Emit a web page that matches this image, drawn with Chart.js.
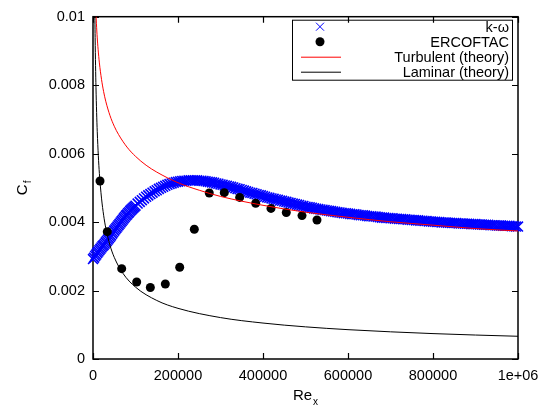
<!DOCTYPE html>
<html>
<head>
<meta charset="utf-8">
<script src="https://cdn.jsdelivr.net/npm/chart.js@4.4.0/dist/chart.umd.min.js"></script>
<style>
  html, body { margin: 0; padding: 0; background: #fff; }
  canvas { display: block; }
</style>
</head>
<body>
<canvas id="cfChart" width="549" height="407"></canvas>
<script>
// Skin friction coefficient along a flat plate

const xTicks = [0, 200000, 400000, 600000, 800000, 1000000];
const yTicks = [0, 0.002, 0.004, 0.006, 0.008, 0.01];

// k-omega simulation (finer spacing near the leading edge)
const komegaRe = [
    0, 2500, 5000, 7500, 10000, 12500, 15000, 17500, 20000, 22500,
    25000, 27500, 30000, 32500, 35000, 37500, 40000, 42500, 45000, 47500,
    50000, 52500, 55000, 57500, 60000, 62500, 65000, 67500, 70000, 72500,
    75000, 77500, 80000, 82500, 85000, 87500, 90000, 92500, 95000, 97500,
    100000, 105000, 110000, 115000, 120000, 125000, 130000, 135000, 140000, 145000,
    150000, 155000, 160000, 165000, 170000, 175000, 180000, 185000, 190000, 195000,
    200000, 205000, 210000, 215000, 220000, 225000, 230000, 235000, 240000, 245000,
    250000, 255000, 260000, 265000, 270000, 275000, 280000, 285000, 290000, 295000,
    300000, 305000, 310000, 315000, 320000, 325000, 330000, 335000, 340000, 345000,
    350000, 355000, 360000, 365000, 370000, 375000, 380000, 385000, 390000, 395000,
    400000, 405000, 410000, 415000, 420000, 425000, 430000, 435000, 440000, 445000,
    450000, 455000, 460000, 465000, 470000, 475000, 480000, 485000, 490000, 495000,
    500000, 505000, 510000, 515000, 520000, 525000, 530000, 535000, 540000, 545000,
    550000, 555000, 560000, 565000, 570000, 575000, 580000, 585000, 590000, 595000,
    600000, 605000, 610000, 615000, 620000, 625000, 630000, 635000, 640000, 645000,
    650000, 655000, 660000, 665000, 670000, 675000, 680000, 685000, 690000, 695000,
    700000, 705000, 710000, 715000, 720000, 725000, 730000, 735000, 740000, 745000,
    750000, 755000, 760000, 765000, 770000, 775000, 780000, 785000, 790000, 795000,
    800000, 805000, 810000, 815000, 820000, 825000, 830000, 835000, 840000, 845000,
    850000, 855000, 860000, 865000, 870000, 875000, 880000, 885000, 890000, 895000,
    900000, 905000, 910000, 915000, 920000, 925000, 930000, 935000, 940000, 945000,
    950000, 955000, 960000, 965000, 970000, 975000, 980000, 985000, 990000, 995000,
    1000000
];
const komegaCf = [
    0.00292, 0.00296, 0.00301, 0.00305, 0.00310, 0.00314, 0.00318, 0.00322, 0.00326, 0.00330,
    0.00333, 0.00337, 0.00341, 0.00345, 0.00349, 0.00353, 0.00357, 0.00361, 0.00366, 0.00370,
    0.00375, 0.00379, 0.00383, 0.00387, 0.00391, 0.00395, 0.00399, 0.00403, 0.00407, 0.00411,
    0.00415, 0.00419, 0.00422, 0.00426, 0.00429, 0.00433, 0.00436, 0.00439, 0.00442, 0.00445,
    0.00448, 0.00454, 0.00459, 0.00464, 0.00469, 0.00474, 0.00478, 0.00482, 0.00486, 0.00490,
    0.00493, 0.00497, 0.00500, 0.00503, 0.00506, 0.00509, 0.00511, 0.00513, 0.00515, 0.00517,
    0.00518, 0.00519, 0.00520, 0.00521, 0.00521, 0.00522, 0.00522, 0.00522, 0.00522, 0.00522,
    0.00521, 0.00521, 0.00520, 0.00519, 0.00518, 0.00517, 0.00516, 0.00515, 0.00513, 0.00512,
    0.00510, 0.00509, 0.00507, 0.00506, 0.00504, 0.00503, 0.00501, 0.00499, 0.00497, 0.00496,
    0.00494, 0.00492, 0.00490, 0.00488, 0.00486, 0.00485, 0.00483, 0.00481, 0.00479, 0.00478,
    0.00476, 0.00474, 0.00472, 0.00471, 0.00469, 0.00468, 0.00466, 0.00465, 0.00463, 0.00462,
    0.00460, 0.00459, 0.00457, 0.00456, 0.00454, 0.00453, 0.00451, 0.00450, 0.00448, 0.00447,
    0.00445, 0.00444, 0.00443, 0.00442, 0.00440, 0.00439, 0.00438, 0.00437, 0.00436, 0.00435,
    0.00434, 0.00433, 0.00432, 0.00431, 0.00430, 0.00429, 0.00428, 0.00427, 0.00426, 0.00426,
    0.00425, 0.00424, 0.00423, 0.00423, 0.00422, 0.00421, 0.00420, 0.00420, 0.00419, 0.00418,
    0.00417, 0.00417, 0.00416, 0.00416, 0.00415, 0.00414, 0.00413, 0.00413, 0.00412, 0.00412,
    0.00411, 0.00411, 0.00410, 0.00410, 0.00409, 0.00409, 0.00408, 0.00408, 0.00407, 0.00407,
    0.00406, 0.00406, 0.00405, 0.00405, 0.00404, 0.00404, 0.00403, 0.00403, 0.00402, 0.00402,
    0.00401, 0.00401, 0.00400, 0.00400, 0.00399, 0.00399, 0.00399, 0.00398, 0.00398, 0.00397,
    0.00397, 0.00397, 0.00396, 0.00396, 0.00396, 0.00395, 0.00395, 0.00395, 0.00394, 0.00394,
    0.00394, 0.00393, 0.00393, 0.00393, 0.00392, 0.00392, 0.00392, 0.00391, 0.00391, 0.00391,
    0.00390, 0.00390, 0.00390, 0.00389, 0.00389, 0.00389, 0.00389, 0.00388, 0.00388, 0.00387,
    0.00387
];

// ERCOFTAC measurements
const ercRe = [16500, 33600, 67500, 102800, 134900, 170200, 204000, 238400,
               273600, 308900, 345100, 382800, 418800, 454800, 491800, 527000];
const ercCf = [0.00520, 0.00372, 0.00264, 0.00225, 0.00209, 0.00219, 0.00268, 0.00379,
               0.00485, 0.00486, 0.00472, 0.00455, 0.00440, 0.00428, 0.00419, 0.00406];

// Turbulent flat plate (theory)
const turbRe = [5000, 7000, 8000, 10000, 12000, 15000, 20000, 25000, 30000, 40000, 50000,
                60000, 80000, 100000, 125000, 150000, 200000, 250000, 300000, 400000,
                500000, 600000, 700000, 800000, 900000, 1000000];
const turbCf = [0.01078, 0.01008, 0.00981, 0.00938, 0.00905, 0.00865, 0.00817, 0.00781, 0.00753,
                0.00711, 0.00680, 0.00656, 0.00619, 0.00592, 0.00566, 0.00546, 0.00515, 0.00493,
                0.00475, 0.00449, 0.00429, 0.00414, 0.00401, 0.00391, 0.00381, 0.00374];

// Laminar flat plate (theory)
const lamRe = [3000, 4000, 5000, 6000, 7000, 8500, 10000, 12500, 15000, 20000, 25000, 30000,
               40000, 50000, 70000, 100000, 150000, 200000, 300000, 400000, 500000, 600000,
               700000, 800000, 900000, 1000000];
const lamCf = [0.01212, 0.01050, 0.00939, 0.00857, 0.00794, 0.00720, 0.00664, 0.00594, 0.00542,
               0.00470, 0.00420, 0.00383, 0.00332, 0.00297, 0.00251, 0.00210, 0.00171, 0.00148,
               0.00121, 0.00105, 0.000939, 0.000857, 0.000794, 0.000742, 0.000700, 0.000664];

const FONT = '"Liberation Sans", Arial, sans-serif';

function toPoints(xs, ys) {
    return xs.map((v, i) => ({ x: v, y: ys[i] }));
}

// white background
const bgPlugin = {
    id: 'bg',
    beforeDraw(chart) {
        const ctx = chart.ctx;
        ctx.save();
        ctx.fillStyle = '#fff';
        ctx.fillRect(0, 0, chart.width, chart.height);
        ctx.restore();
    }
};

// gnuplot style box with inward ticks on all sides
const framePlugin = {
    id: 'frame',
    beforeDatasetsDraw(chart) {
        const { ctx, chartArea: a, scales: { x, y } } = chart;
        const tl = 6;
        ctx.save();
        ctx.strokeStyle = '#000';
        ctx.lineWidth = 1.5;
        ctx.strokeRect(a.left, a.top, a.right - a.left, a.bottom - a.top);
        ctx.lineWidth = 1.2;
        ctx.beginPath();
        x.ticks.forEach(t => {
            const px = Math.round(x.getPixelForValue(t.value)) + 0.5;
            ctx.moveTo(px, a.bottom); ctx.lineTo(px, a.bottom - tl);
            ctx.moveTo(px, a.top); ctx.lineTo(px, a.top + tl);
        });
        y.ticks.forEach(t => {
            const py = Math.round(y.getPixelForValue(t.value)) + 0.5;
            ctx.moveTo(a.left, py); ctx.lineTo(a.left + tl, py);
            ctx.moveTo(a.right, py); ctx.lineTo(a.right - tl, py);
        });
        ctx.stroke();
        ctx.restore();
    },
    afterDraw(chart) {
        const { ctx, chartArea: a } = chart;
        ctx.save();
        ctx.fillStyle = '#000';
        ctx.textBaseline = 'alphabetic';

        // x title: Re with subscript x
        ctx.font = '15px ' + FONT;
        const wRe = ctx.measureText('Re').width;
        ctx.font = '10px ' + FONT;
        const wSub = ctx.measureText('x').width;
        let sx = (a.left + a.right) / 2 - (wRe + wSub + 1) / 2;
        ctx.font = '15px ' + FONT;
        ctx.fillText('Re', sx, 400);
        ctx.font = '10px ' + FONT;
        ctx.fillText('x', sx + wRe + 1, 405);

        // y title: C with subscript f, rotated
        ctx.translate(27, (a.top + a.bottom) / 2);
        ctx.rotate(-Math.PI / 2);
        ctx.font = '15px ' + FONT;
        const wC = ctx.measureText('C').width;
        ctx.font = '10px ' + FONT;
        const wF = ctx.measureText('f').width;
        sx = -(wC + wF + 1) / 2;
        ctx.font = '15px ' + FONT;
        ctx.fillText('C', sx, 0);
        ctx.font = '10px ' + FONT;
        ctx.fillText('f', sx + wC + 1, 4);
        ctx.restore();
    }
};

// legend in the top right corner, text right aligned, sample on the left
const keyPlugin = {
    id: 'key',
    afterDraw(chart) {
        const { ctx, chartArea: a } = chart;
        const right = a.right - 6, top = a.top + 3;
        const left = right - 220, bottom = top + 60;
        const symX = left + 28;
        ctx.save();
        ctx.strokeStyle = '#000';
        ctx.lineWidth = 1;
        ctx.strokeRect(left + 0.5, top + 0.5, right - left, bottom - top);
        ctx.font = '14.5px ' + FONT;
        ctx.fillStyle = '#000';
        ctx.textAlign = 'right';
        ctx.textBaseline = 'middle';
        chart.data.datasets.forEach((ds, i) => {
            const yy = top + 7 + i * 15;
            ctx.fillText(ds.label, right - 3, yy + 1);
            if (ds.showLine) {
                ctx.strokeStyle = ds.borderColor;
                ctx.lineWidth = 1;
                ctx.beginPath();
                ctx.moveTo(left + 9, yy + 0.5);
                ctx.lineTo(left + 49, yy + 0.5);
                ctx.stroke();
            } else if (ds.pointStyle === 'crossRot') {
                ctx.strokeStyle = ds.borderColor;
                ctx.lineWidth = 1;
                ctx.beginPath();
                ctx.moveTo(symX - 4, yy - 4); ctx.lineTo(symX + 4, yy + 4);
                ctx.moveTo(symX + 4, yy - 4); ctx.lineTo(symX - 4, yy + 4);
                ctx.stroke();
            } else {
                ctx.fillStyle = ds.backgroundColor;
                ctx.beginPath();
                ctx.arc(symX, yy, ds.pointRadius, 0, Math.PI * 2);
                ctx.fill();
                ctx.fillStyle = '#000';
            }
        });
        ctx.restore();
    }
};

new Chart(document.getElementById('cfChart'), {
    type: 'scatter',
    data: {
        datasets: [
            {
                label: 'k-ω',
                data: toPoints(komegaRe, komegaCf),
                pointStyle: 'crossRot',
                pointRadius: 7,
                borderColor: '#0000ff',
                backgroundColor: '#0000ff',
                borderWidth: 1.6,
                showLine: false,
                clip: false,
                order: 4
            },
            {
                label: 'ERCOFTAC',
                data: toPoints(ercRe, ercCf),
                pointStyle: 'circle',
                pointRadius: 4.5,
                borderWidth: 0,
                backgroundColor: '#000',
                borderColor: '#000',
                showLine: false,
                clip: false,
                order: 3
            },
            {
                label: 'Turbulent (theory)',
                data: toPoints(turbRe, turbCf),
                showLine: true,
                borderColor: '#ff0000',
                borderWidth: 1,
                pointRadius: 0,
                cubicInterpolationMode: 'monotone',
                clip: 0,
                order: 2
            },
            {
                label: 'Laminar (theory)',
                data: toPoints(lamRe, lamCf),
                showLine: true,
                borderColor: '#000000',
                borderWidth: 1,
                pointRadius: 0,
                cubicInterpolationMode: 'monotone',
                clip: 0,
                order: 1
            }
        ]
    },
    options: {
        responsive: false,
        animation: false,
        layout: { padding: { top: 15, right: 31, bottom: 0, left: 0 } },
        plugins: {
            legend: { display: false },
            tooltip: { enabled: false }
        },
        scales: {
            x: {
                type: 'linear',
                min: 0,
                max: 1000000,
                afterBuildTicks: s => { s.ticks = xTicks.map(v => ({ value: v })); },
                afterFit: s => { s.height = 48; },
                grid: { display: false, drawTicks: false },
                border: { display: false },
                ticks: {
                    padding: 8,
                    maxRotation: 0,
                    color: '#000',
                    font: { family: FONT, size: 14.5 },
                    callback: v => (v === 1000000 ? '1e+06' : String(v))
                }
            },
            y: {
                type: 'linear',
                min: 0,
                max: 0.01,
                afterBuildTicks: s => { s.ticks = yTicks.map(v => ({ value: v })); },
                afterFit: s => { s.width = 93; },
                grid: { display: false, drawTicks: false },
                border: { display: false },
                ticks: {
                    padding: 8,
                    color: '#000',
                    font: { family: FONT, size: 14.5 },
                    callback: v => String(parseFloat(Number(v).toFixed(4)))
                }
            }
        }
    },
    plugins: [bgPlugin, framePlugin, keyPlugin]
});
</script>
</body>
</html>
